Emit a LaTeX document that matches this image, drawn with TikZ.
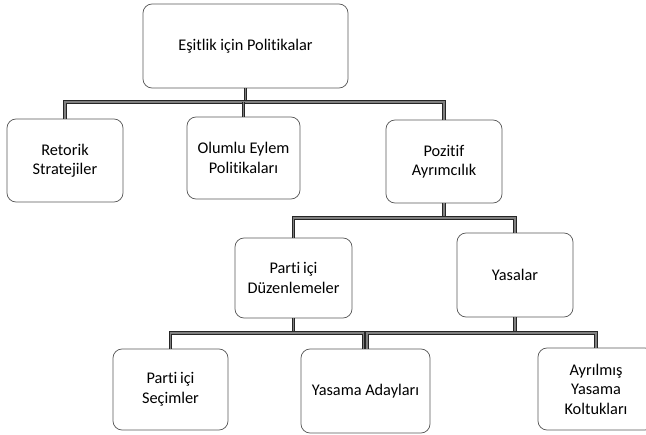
\documentclass[tikz,border=0pt]{standalone}
\usepackage{fontspec}
\setmainfont{Carlito}[Ligatures=NoCommon]
\begin{document}
\begin{tikzpicture}[x=1pt,y=-1pt,
  box/.style={draw=black!65, line width=0.75pt, rounded corners=9pt, fill=white,
    align=center, inner sep=2pt, font=\fontsize{16.3}{19.5}\selectfont, text=black},
  conn/.style={draw=black!85, line width=0.9pt, double=black!50, double distance=1.6pt}]
\useasboundingbox (0,0) rectangle (646,435);
\clip (0,0) rectangle (646,435);
% nodes
\node[box, minimum width=205pt, minimum height=84pt] (top) at (245.5,46) {Eşitlik için Politikalar};
\node[box, minimum width=116pt, minimum height=83pt] (ret) at (65,160.5) {Retorik\\Stratejiler};
\node[box, minimum width=113pt, minimum height=82pt] (olu) at (243.5,158) {Olumlu Eylem\\Politikaları};
\node[box, minimum width=116pt, minimum height=83pt] (poz) at (444,161.5) {Pozitif\\Ayrımcılık};
\node[box, minimum width=117pt, minimum height=80pt] (pdz) at (293.5,278) {Parti\,içi\\Düzenlemeler};
\node[box, minimum width=116pt, minimum height=84pt] (yas) at (515,275) {Yasalar};
\node[box, minimum width=115pt, minimum height=81pt] (sec) at (170.5,389.5) {Parti\,içi\\Seçimler};
\node[box, minimum width=129pt, minimum height=84pt] (ada) at (365.5,391) {Yasama Adayları};
\node[box, minimum width=116pt, minimum height=82pt] (ayr) at (596,389) {Ayrılmış\\Yasama\\Koltukları};
% connectors
\coordinate (b1) at (245.5,102);
\draw[conn] (top.south) -- (b1);
\draw[conn] (ret.north) |- (b1) -| (poz.north);
\draw[conn] (olu.north) -- (olu.north |- b1);
\coordinate (b2) at (444,218);
\draw[conn] (poz.south) -- (b2);
\draw[conn] (pdz.north) |- (b2) -| (yas.north);
\coordinate (b3) at (293.5,333);
\draw[conn] (pdz.south) -- (b3);
\draw[conn] (sec.north) |- (b3) -| ([xshift=-2pt]ada.north);
\coordinate (b4) at (515,333);
\draw[conn] (yas.south) -- (b4);
\draw[conn] ([xshift=1.5pt]ada.north) |- (b4) -| (ayr.north);
\end{tikzpicture}
\end{document}
